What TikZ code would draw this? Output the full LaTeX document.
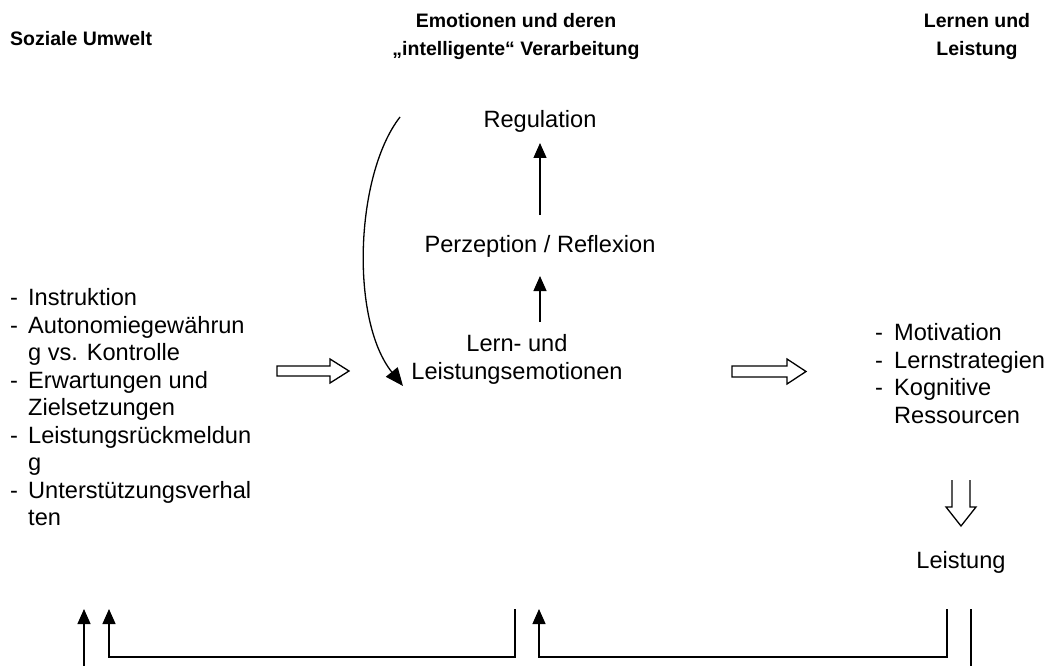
\documentclass[tikz,border=0pt]{standalone}
\usepackage{fontspec}
\setmainfont{Liberation Sans}
\usetikzlibrary{arrows.meta}
\begin{document}
\begin{tikzpicture}[x=1pt,y=-1pt,
  body/.style={font=\fontsize{23.6}{27.5}\selectfont, inner sep=0pt},
  headtxt/.style={font=\fontsize{19.5}{28}\selectfont\bfseries, inner sep=0pt, align=center},
  arr/.style={line width=1.3pt, -{Triangle[length=15pt,width=13pt]}},
  bigarr/.style={line width=1.3pt, -{Triangle[length=18pt,width=15pt]}},
  ln/.style={line width=1.3pt},
  hollow/.style={line width=1.3pt, draw=black, fill=white, line join=miter}]
\useasboundingbox (0,0) rectangle (1050,666);

% headers
\node[headtxt, anchor=base west] (h1) at (10,46) {Soziale Umwelt};
\node[headtxt, anchor=base] (h2) at (516,56) {Emotionen und deren\\„intelligente“ Verarbeitung};
\node[headtxt, anchor=base] (h3) at (977,56) {Lernen und\\Leistung};

% centre column
\node[body, anchor=base] (reg) at (540,128) {Regulation};
\node[body, anchor=base] (perz) at (540,252) {Perzeption / Reflexion};
\node[body, anchor=base, align=center] (emo) at (517,379) {Lern- und\\Leistungsemotionen};

% left list
\node[body, anchor=north west] (umwelt) at (10,286.25) {\begin{tabular}{@{}p{18pt}@{}l@{}}
-&Instruktion\\
-&Autonomiegewährun\\
 &g vs. Kontrolle\\
-&Erwartungen und\\
 &Zielsetzungen\\
-&Leistungsrückmeldun\\
 &g\\
-&Unterstützungsverhal\\
 &ten
\end{tabular}};

% right list
\node[body, anchor=north west] (lern) at (875,321.25) {\begin{tabular}{@{}p{19pt}@{}l@{}}
-&Motivation\\
-&Lernstrategien\\
-&Kognitive\\
 &Ressourcen
\end{tabular}};

\node[body, anchor=base] (leist) at (961,568) {Leistung};

% coordinates
\coordinate (a1s) at (540,215);
\coordinate (a1e) at (540,143);
\coordinate (a2s) at (540,322);
\coordinate (a2e) at (540,276);
\coordinate (cs) at (400,117);
\coordinate (ce) at (403,386);

\draw[arr] (a1s) -- (a1e);
\draw[arr] (a2s) -- (a2e);
\draw[bigarr] (cs) .. controls (355,175) and (350,320) .. (ce);

% hollow arrows
\draw[hollow] (277,366) -- (330,366) -- (330,359) -- (349,371) -- (330,383) -- (330,376) -- (277,376) -- cycle;
\draw[hollow] (732,366) -- (787,366) -- (787,359) -- (806,371.5) -- (787,384) -- (787,377) -- (732,377) -- cycle;
\draw[hollow] (952,480) -- (952,507) -- (946,507) -- (961,526) -- (976,507) -- (970,507) -- (970,480);

% bottom feedback lines
\coordinate (b1s) at (84,667);
\coordinate (b1e) at (84,609);
\coordinate (b2e) at (109,609);
\coordinate (b2c) at (109,657);
\coordinate (b3c) at (515,657);
\coordinate (b3t) at (515,609);
\coordinate (b4e) at (539,609);
\coordinate (b4c) at (539,657);
\coordinate (b5c) at (947,657);
\coordinate (b5t) at (947,609);
\coordinate (b6t) at (971,609);
\coordinate (b6s) at (971,667);

\draw[arr] (b1s) -- (b1e);
\draw[arr] (b3t) -- (b3c) -- (b2c) -- (b2e);
\draw[arr] (b5t) -- (b5c) -- (b4c) -- (b4e);
\draw[ln] (b6t) -- (b6s);
\end{tikzpicture}
\end{document}
